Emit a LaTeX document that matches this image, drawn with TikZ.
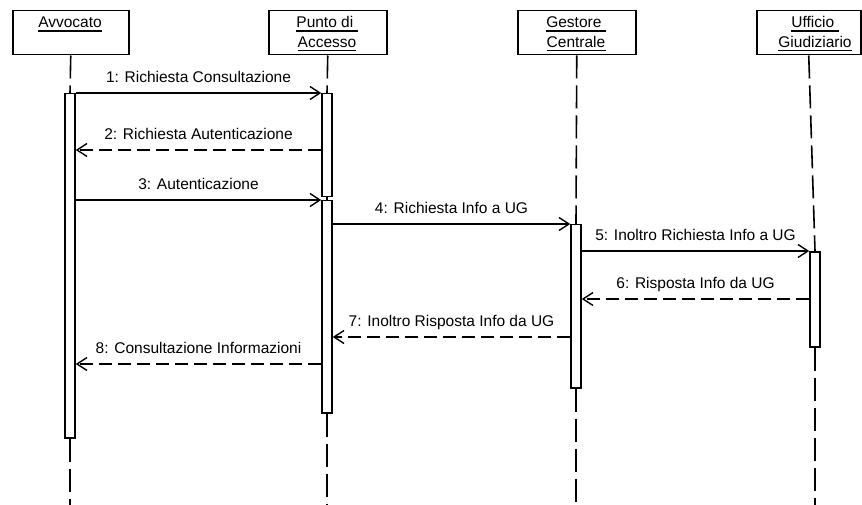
\documentclass[tikz,border=0pt]{standalone}
\usepackage{fontspec}
\setmainfont{Liberation Sans}
\usetikzlibrary{arrows.meta}
\begin{document}
\begin{tikzpicture}[x=1pt,y=-1pt,
  every node/.style={font=\fontsize{15.5}{18}\selectfont},
  actor/.style={draw,line width=1.5pt,rectangle,inner sep=0,anchor=north west,minimum height=44pt},
  lbl/.style={inner sep=0,anchor=base},
  uline/.style={line width=1.3pt},
  bar/.style={draw,line width=1.5pt,fill=white,inner sep=0,minimum width=10pt,anchor=north},
  life/.style={line width=1.6pt,dash pattern=on 23pt off 7pt},
  msg/.style={line width=1.5pt,-{Straight Barb[length=10pt,width=13pt,line width=1.4pt]}},
  ret/.style={msg,dash pattern=on 13pt off 6pt},
  mlbl/.style={inner sep=0,anchor=base,yshift=10.5pt},
]
\fill[white] (0,0) rectangle (862,505);
\useasboundingbox (0,0) rectangle (862,505);
\coordinate (bot) at (0,506);

% actor boxes
\node[actor,minimum width=116pt] (avbox) at (12,10) {};
\node[actor,minimum width=118pt] (pabox) at (268,10) {};
\node[actor,minimum width=118pt] (gcbox) at (517,10) {};
\node[actor,minimum width=104pt] (ufbox) at (756,10) {};

% actor labels
\node[lbl] (t1) at (70,28) {Avvocato};
\node[lbl] (t2a) at (327,28) {Punto di\kern4.3pt};
\node[lbl] (t2b) at (327,47.5) {Accesso};
\node[lbl] (t3a) at (576,28) {Gestore\kern4.3pt};
\node[lbl] (t3b) at (576,47.5) {Centrale};
\node[lbl] (t4a) at (815,28) {Ufficio\kern4.3pt};
\node[lbl] (t4b) at (815,47.5) {Giudiziario};
\foreach \t in {t1,t2a,t2b,t3a,t3b,t4a,t4b}
  \draw[uline] ([yshift=-3pt]\t.base west) -- ([yshift=-3pt]\t.base east);

% activation bars
\node[bar,minimum height=344pt] (avbar) at (70,93) {};
\node[bar,minimum height=103pt] (pabar1) at (327,93) {};
\node[bar,minimum height=212pt] (pabar2) at (327,200) {};
\node[bar,minimum height=163pt] (gcbar) at (576,224) {};
\node[bar,minimum height=95pt] (ufbar) at (815,251) {};

% lifelines
\draw[life] (avbox.south) -- (avbar.north);
\draw[life] (avbar.south) -- (avbar.south |- bot);
\draw[life] (pabox.south) -- (pabar1.north);
\draw[line width=1.5pt] (pabar1.south) -- (pabar2.north);
\draw[life] (pabar2.south) -- (pabar2.south |- bot);
\draw[life] (gcbox.south) -- (gcbar.north);
\draw[life] (gcbar.south) -- (gcbar.south |- bot);
\draw[life] (ufbox.south) -- (ufbar.north);
\draw[life] (ufbar.south) -- (ufbar.south |- bot);

% message levels
\coordinate (y2) at (0,150);
\coordinate (y6) at (0,299);
\coordinate (y7) at (0,337);
\coordinate (y8) at (0,364);

% messages
\draw[msg] (avbar.east |- pabar1.north) -- (pabar1.north west)
  node[midway,mlbl] {1: Richiesta Consultazione};
\draw[ret] (pabar1.west |- y2) -- (avbar.east |- y2)
  node[midway,mlbl] {2: Richiesta Autenticazione};
\draw[msg] (avbar.east |- pabar2.north) -- (pabar2.north west)
  node[midway,mlbl] {3: Autenticazione};
\draw[msg] (pabar2.east |- gcbar.north) -- (gcbar.north west)
  node[midway,mlbl] {4: Richiesta Info a UG};
\draw[msg] (gcbar.east |- ufbar.north) -- (ufbar.north west)
  node[midway,mlbl] {5: Inoltro Richiesta Info a UG};
\draw[ret] (ufbar.west |- y6) -- (gcbar.east |- y6)
  node[midway,mlbl] {6: Risposta Info da UG};
\draw[ret] (gcbar.west |- y7) -- (pabar2.east |- y7)
  node[midway,mlbl] {7: Inoltro Risposta Info da UG};
\draw[ret] (pabar2.west |- y8) -- (avbar.east |- y8)
  node[midway,mlbl] {8: Consultazione Informazioni};
\end{tikzpicture}
\end{document}
